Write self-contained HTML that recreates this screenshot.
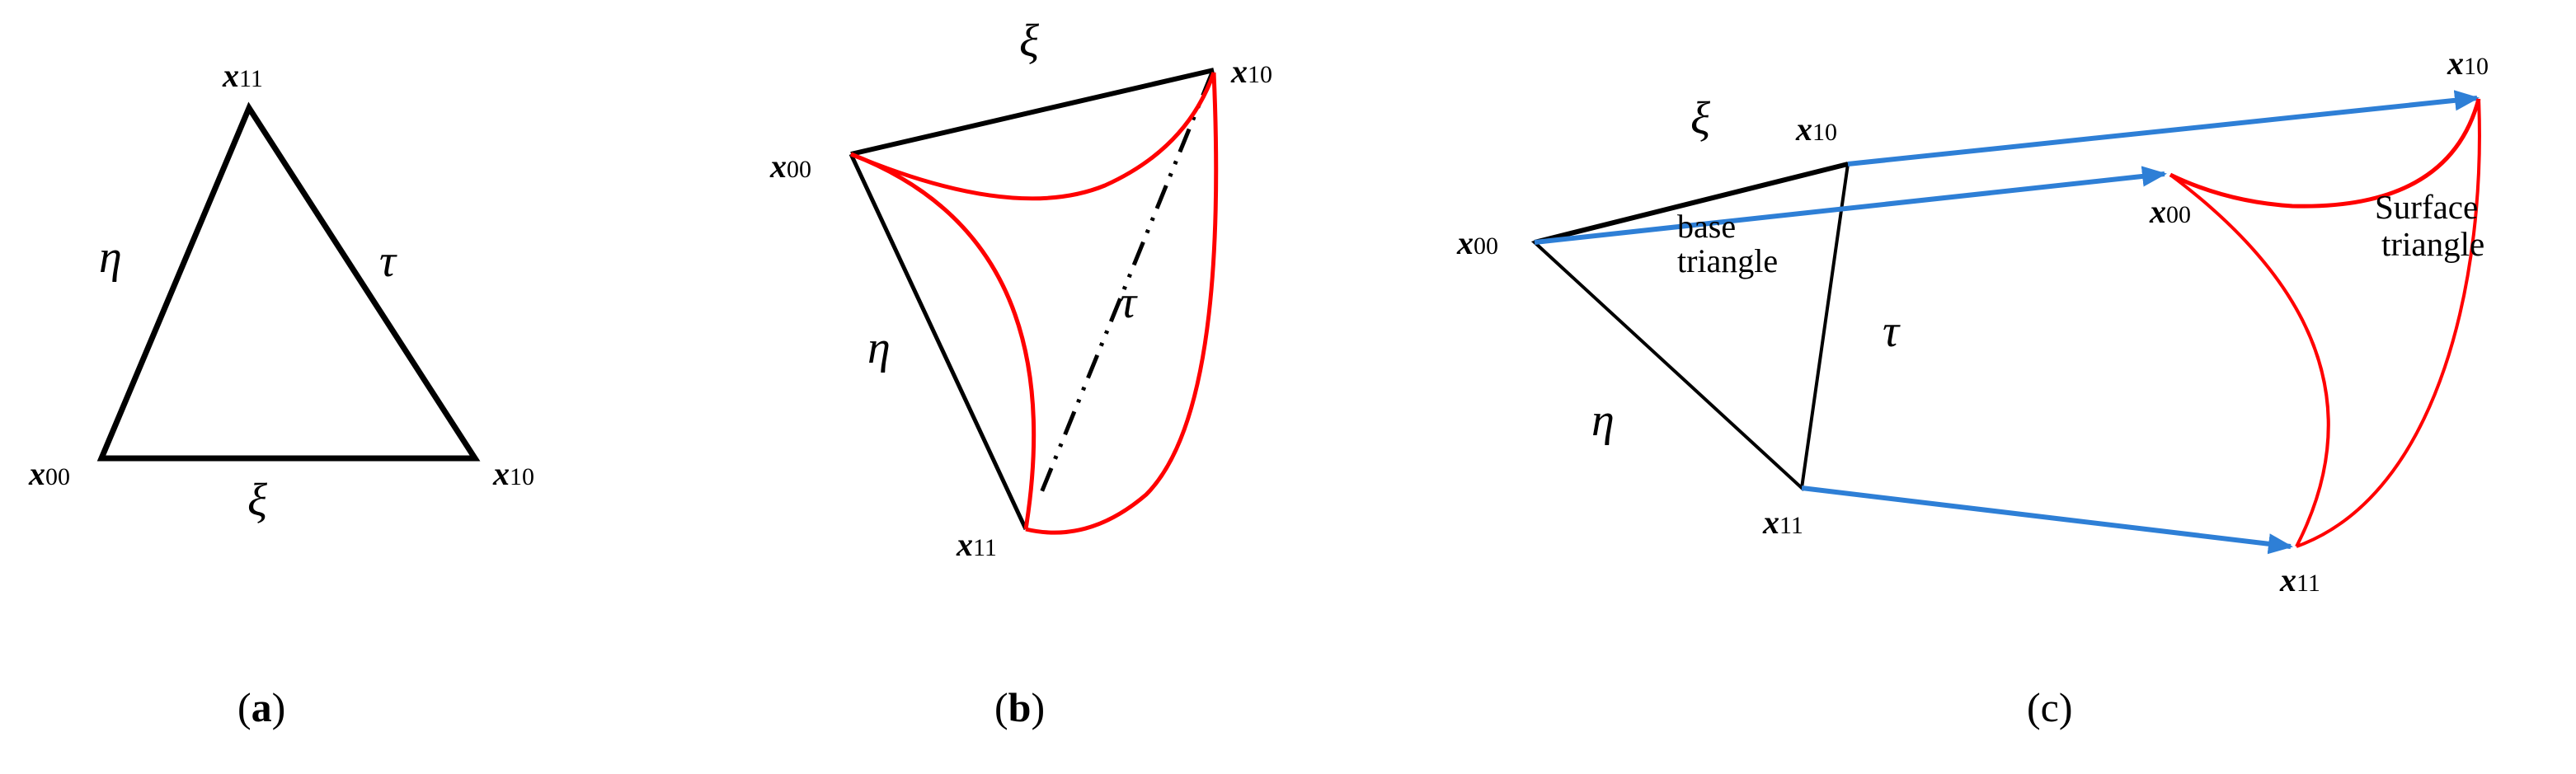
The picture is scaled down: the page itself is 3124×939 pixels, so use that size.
<!DOCTYPE html>
<html><head><style>
html,body{margin:0;padding:0;background:#fff}
svg{display:block}
text{font-family:"Liberation Serif",serif}
.x{font-style:italic;font-weight:bold;font-size:40px}
.s{font-size:30px;font-weight:normal;font-style:normal}
.g{font-style:italic;font-size:56px}
.cap{font-size:50px}
.lbl{font-size:40px}
.lbl2{font-size:41px}
</style></head><body>
<svg width="3124" height="939" viewBox="0 0 3124 939" xmlns="http://www.w3.org/2000/svg">
<defs>
<marker id="ah" markerWidth="5" markerHeight="5" refX="4.5" refY="2.5" orient="auto" markerUnits="strokeWidth">
<path d="M0,0.4 L5,2.5 L0,4.6 z" fill="#2e7fd6"/></marker>
</defs>
<!-- Panel a -->
<polygon points="302,131 123,556 576,556" fill="none" stroke="#000" stroke-width="7" stroke-linejoin="miter"/>
<text x="270" y="105" class="x">x<tspan class="s">11</tspan></text>
<text x="120" y="330" class="g">η</text>
<text x="460" y="335" class="g">τ</text>
<text x="35" y="588" class="x">x<tspan class="s">00</tspan></text>
<text x="598" y="588" class="x">x<tspan class="s">10</tspan></text>
<text x="300" y="625" class="g">ξ</text>
<text x="288" y="875" class="cap">(<tspan font-weight="bold">a</tspan>)</text>

<!-- Panel b -->
<line x1="1032" y1="187" x2="1472" y2="85" stroke="#000" stroke-width="6"/>
<line x1="1032" y1="187" x2="1244" y2="642" stroke="#000" stroke-width="5"/>
<line x1="1470" y1="88" x2="1262" y2="600" stroke="#000" stroke-width="5" stroke-dasharray="30,12,4,12,4,12"/>
<path d="M1032,187 Q1230,270 1340,225 Q1440,180 1472,88" fill="none" stroke="#f00" stroke-width="5"/>
<path d="M1032,187 Q1300,290 1244,642" fill="none" stroke="#f00" stroke-width="5"/>
<path d="M1472,88 Q1490,500 1390,600 Q1320,660 1244,642" fill="none" stroke="#f00" stroke-width="5"/>
<text x="1236" y="68" class="g">ξ</text>
<text x="1052" y="440" class="g">η</text>
<text x="1358" y="385" class="g">τ</text>
<text x="934" y="215" class="x">x<tspan class="s">00</tspan></text>
<text x="1493" y="100" class="x">x<tspan class="s">10</tspan></text>
<text x="1160" y="674" class="x">x<tspan class="s">11</tspan></text>
<text x="1206" y="875" class="cap">(<tspan font-weight="bold">b</tspan>)</text>

<!-- Panel c -->
<polygon points="1861,294 2241,199 2185,592" fill="none" stroke="#000" stroke-width="4"/>
<line x1="1861" y1="294" x2="2241" y2="199" stroke="#000" stroke-width="6"/>
<line x1="2241" y1="199" x2="3004" y2="119" stroke="#2e7fd6" stroke-width="6" marker-end="url(#ah)"/>
<line x1="1861" y1="294" x2="2625" y2="211" stroke="#2e7fd6" stroke-width="6" marker-end="url(#ah)"/>
<line x1="2185" y1="592" x2="2778" y2="663" stroke="#2e7fd6" stroke-width="6" marker-end="url(#ah)"/>
<path d="M2632,212 Q2700,245 2780,250 Q2970,255 3006,120" fill="none" stroke="#f00" stroke-width="5"/>
<path d="M2632,212 Q2910,420 2785,663" fill="none" stroke="#f00" stroke-width="4"/>
<path d="M3006,120 C3015,330 2960,600 2785,663" fill="none" stroke="#f00" stroke-width="4"/>
<text x="2050" y="162" class="g">ξ</text>
<text x="1930" y="528" class="g">η</text>
<text x="2283" y="420" class="g">τ</text>
<text x="1767" y="308" class="x">x<tspan class="s">00</tspan></text>
<text x="2178" y="170" class="x">x<tspan class="s">10</tspan></text>
<text x="2138" y="647" class="x">x<tspan class="s">11</tspan></text>
<text x="2607" y="270" class="x">x<tspan class="s">00</tspan></text>
<text x="2968" y="90" class="x">x<tspan class="s">10</tspan></text>
<text x="2765" y="717" class="x">x<tspan class="s">11</tspan></text>
<text x="2034" y="288" class="lbl">base</text>
<text x="2034" y="330" class="lbl">triangle</text>
<text x="2880" y="265" class="lbl2">Surface</text>
<text x="2888" y="310" class="lbl2">triangle</text>
<text x="2458" y="875" class="cap">(<tspan>c</tspan>)</text>
</svg>
</body></html>
